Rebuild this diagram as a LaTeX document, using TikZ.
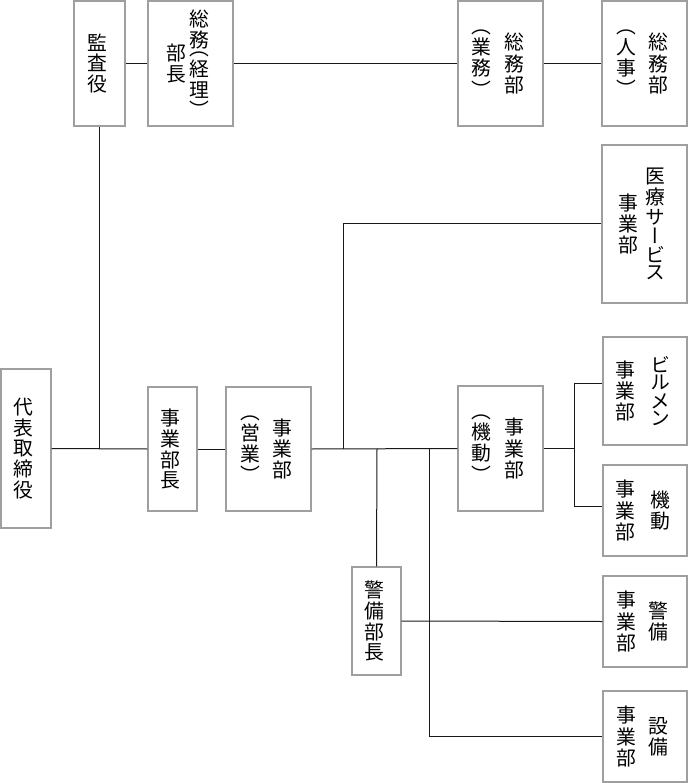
\documentclass[tikz,border=0pt]{standalone}
\usepackage{fontspec}
\newfontfamily\jp[RawFeature=+vert]{Noto Sans CJK JP}
\usepackage{tikz}

\newcommand{\tcol}[1]{$\vcenter{\hbox{\shortstack{#1}}}$}

\tikzset{
    box/.style={draw=gray!75, line width=1.2pt, inner sep=0pt, align=center},
    conn/.style={line width=1pt, draw=black!90}
}

\begin{document}
\begin{tikzpicture}[x=1pt, y=-1pt, font=\jp\fontsize{19.8}{20}\selectfont]
        \useasboundingbox (0,0) rectangle (688,783);
        \node[box, minimum width=51, minimum height=125] (Kansa) at (99.5,63.5) {
            \tcol{監\\査\\役}
        };
        \node[box, minimum width=85, minimum height=125] (SomuBucho) at (190.5,63.5) {
            \tcol{部\\長}\hspace{3pt}\tcol{総\\務\\（\\経\\理\\）}
        };
        \node[box, minimum width=85, minimum height=125] (SomuGyomu) at (500.5,63.5) {
            \tcol{（\\業\\務\\）}\hspace{13pt}\tcol{総\\務\\部}
        };
        \node[box, minimum width=85, minimum height=125] (SomuJinji) at (644.5,63.5) {
            \tcol{（\\人\\事\\）}\hspace{12pt}\tcol{総\\務\\部}
        };
        \node[box, minimum width=85, minimum height=158] (Iryo) at (644.5,224) {
            \tcol{事\\業\\部}\hspace{7pt}\tcol{医\\療\\サ\\ー\\ビ\\ス}
        };
        \node[box, minimum width=50, minimum height=159] (Daihyo) at (26,448.5) {
            \tcol{代\\表\\取\\締\\役}
        };
        \node[box, minimum width=49, minimum height=124] (JigyoBucho) at (172.5,449) {
            \tcol{事\\業\\部\\長}
        };
        \node[box, minimum width=85, minimum height=124] (Eigyo) at (268.5,449) {
            \tcol{（\\営\\業\\）}\hspace{12pt}\tcol{事\\業\\部}
        };
        \node[box, minimum width=85, minimum height=125] (Kido) at (500.5,448.5) {
            \tcol{（\\機\\動\\）}\hspace{13pt}\tcol{事\\業\\部}
        };
        \node[box, minimum width=84, minimum height=108] (Birumen) at (645,391) {
            \tcol{事\\業\\部}\hspace{15pt}\tcol{ビ\\ル\\メ\\ン}
        };
        \node[box, minimum width=84, minimum height=91] (KidoJigyo) at (645,510.5) {
            \tcol{事\\業\\部}\hspace{15pt}\tcol{機\\動}
        };
        \node[box, minimum width=49, minimum height=108] (KeibiBucho) at (376.5,621) {
            \tcol{警\\備\\部\\長}
        };
        \node[box, minimum width=84, minimum height=91] (Keibi) at (645,621.5) {
            \tcol{事\\業\\部}\hspace{12pt}\tcol{警\\備}
        };
        \node[box, minimum width=84, minimum height=91] (Setsubi) at (645,736.5) {
            \tcol{事\\業\\部}\hspace{12pt}\tcol{設\\備}
        };
        % branch points on the main line
        \coordinate (IryoFork) at (343,448.5);
        \coordinate (KeibiFork) at (377,448.5);
        \coordinate (SetsubiFork) at (429,448.5);
        \coordinate (KidoFork) at (574,448.5);
        % top row
        \draw[conn] (Kansa.east) -- (SomuBucho.west);
        \draw[conn] (SomuBucho.east) -- (SomuGyomu.west);
        \draw[conn] (SomuGyomu.east) -- (SomuJinji.west);
        \draw[conn] (Kansa.south) -- (Kansa.south |- Daihyo.east);
        % main line
        \draw[conn] (Daihyo.east) -- (JigyoBucho.west);
        \draw[conn] (JigyoBucho.east) -- (Eigyo.west);
        \draw[conn] (Eigyo.east) -- (Kido.west);
        \draw[conn] (IryoFork) |- (Iryo.west);
        \draw[conn] (KeibiFork) -- (KeibiBucho.north);
        \draw[conn] (SetsubiFork) |- (Setsubi.west);
        \draw[conn] (KeibiBucho.east) -- (Keibi.west);
        \draw[conn] (Kido.east) -- (KidoFork);
        \draw[conn] (Birumen.170) -| (KidoFork) |- (KidoJigyo.175);
    \end{tikzpicture}
\end{document}
